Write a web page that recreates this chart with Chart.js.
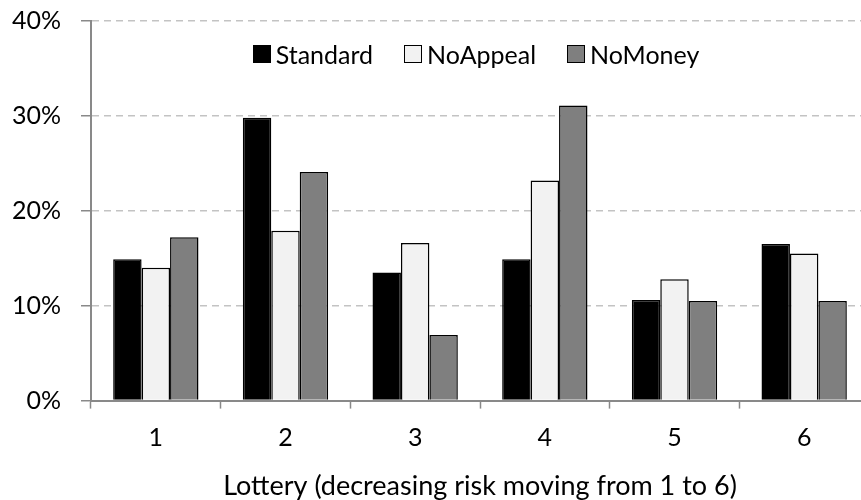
<!DOCTYPE html>
<html>
<head>
<meta charset="utf-8">
<script src="https://cdn.jsdelivr.net/npm/chart.js@4/dist/chart.umd.min.js"></script>
<style>
  html, body { margin: 0; padding: 0; background: #ffffff; overflow: hidden; width: 861px; height: 500px; }
  #page { position: relative; width: 861px; height: 500px; overflow: hidden; }
  #wrap { position: absolute; left: 0; top: -14px; width: 870px; height: 516px; }
  #legend { position: absolute; left: 0; width: 952px; top: 40px; display: flex; justify-content: center; gap: 31px;
            font-family: Lato, "Open Sans", sans-serif; font-size: 25px; color: #000; line-height: 28px; }
  .item { display: flex; align-items: center; white-space: nowrap; }
  .box { width: 16px; height: 16px; border: 1px solid #000; margin-right: 5px; box-sizing: content-box; }
</style>
</head>
<body>
<div id="page">
  <div id="wrap"><canvas id="c"></canvas></div>
  <div id="legend"></div>
</div>
<script>
const categories = ['1', '2', '3', '4', '5', '6'];
const seriesNames = ['Standard', 'NoAppeal', 'NoMoney'];
const standard = [14.9, 29.8, 13.5, 14.9, 10.6, 16.5];
const noAppeal = [14.0, 17.9, 16.6, 23.2, 12.8, 15.5];
const noMoney  = [17.2, 24.1, 6.9, 31.1, 10.5, 10.5];
const yTicks = [0, 10, 20, 30, 40];
const xTitle = 'Lottery (decreasing risk moving from 1 to 6)';

const FONT = 'Lato, "Open Sans", sans-serif';
const axisGray = '#898989';
const fills = ['#000000', '#f2f2f2', '#7f7f7f'];

const chart = new Chart(document.getElementById('c'), {
  type: 'bar',
  data: {
    labels: categories,
    datasets: [
      { label: seriesNames[0], data: standard, backgroundColor: fills[0], borderColor: '#000000', borderWidth: 1.5 },
      { label: seriesNames[1], data: noAppeal, backgroundColor: fills[1], borderColor: '#000000', borderWidth: 1.5 },
      { label: seriesNames[2], data: noMoney,  backgroundColor: fills[2], borderColor: '#000000', borderWidth: 1.5 }
    ]
  },
  options: {
    responsive: true,
    maintainAspectRatio: false,
    animation: false,
    devicePixelRatio: 1,
    layout: { padding: { left: 0, top: 0, right: 1, bottom: 0 } },
    datasets: { bar: { barPercentage: 1.0, categoryPercentage: 0.658 } },
    plugins: {
      legend: { display: false },
      tooltip: { enabled: false }
    },
    scales: {
      x: {
        offset: true,
        grid: {
          offset: true,
          drawOnChartArea: false,
          drawTicks: true,
          tickLength: 8,
          tickColor: axisGray,
          tickWidth: 1.5
        },
        border: { display: true, color: axisGray, width: 2 },
        ticks: {
          font: { family: FONT, size: 25 },
          color: '#000000',
          padding: 14
        },
        title: {
          display: true,
          text: xTitle,
          font: { family: FONT, size: 27 },
          color: '#000000',
          padding: { top: 3, bottom: 0 }
        }
      },
      y: {
        min: 0,
        max: 40,
        afterBuildTicks: (axis) => { axis.ticks = yTicks.map(v => ({ value: v })); },
        afterFit: (axis) => { axis.width = 91; },
        grid: {
          color: (ctx) => (ctx.tick && ctx.tick.value === 0) ? 'rgba(0,0,0,0)' : '#c3c3c3',
          lineWidth: 1.5,
          drawTicks: true,
          tickLength: 10,
          tickColor: axisGray,
          tickWidth: 1.5,
          tickBorderDash: []
        },
        border: { display: true, color: axisGray, width: 2, dash: [7, 5] },
        ticks: {
          font: { family: FONT, size: 25 },
          color: '#000000',
          padding: 20,
          callback: (v) => v + '%'
        }
      }
    }
  }
});

// HTML legend built from the chart's datasets
const legend = document.getElementById('legend');
chart.data.datasets.forEach(ds => {
  const item = document.createElement('div');
  item.className = 'item';
  const box = document.createElement('span');
  box.className = 'box';
  box.style.background = ds.backgroundColor;
  const txt = document.createElement('span');
  txt.textContent = ds.label;
  item.appendChild(box);
  item.appendChild(txt);
  legend.appendChild(item);
});
</script>
</body>
</html>
